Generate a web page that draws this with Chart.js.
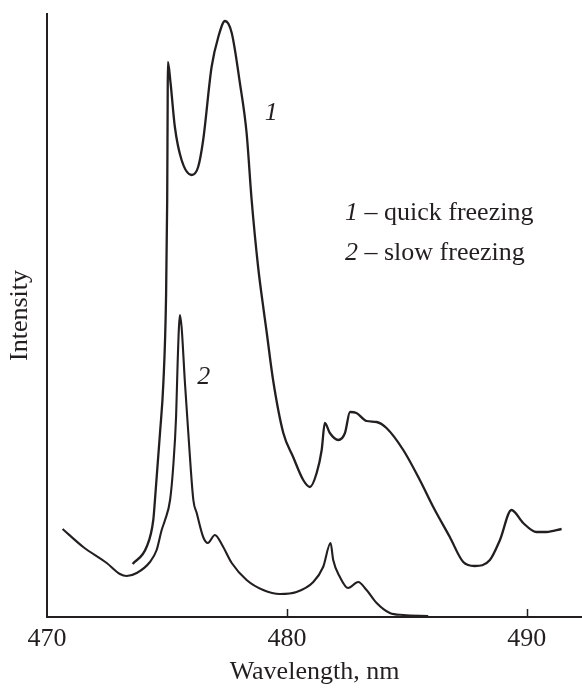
<!DOCTYPE html>
<html>
<head>
<meta charset="utf-8">
<script src="https://cdn.jsdelivr.net/npm/chart.js@4"></script>
<style>
  body { margin: 0; background: #fff; }
  canvas { display: block; }
</style>
</head>
<body>
<canvas id="spectrum" width="582" height="688"></canvas>
<script>
// curve 1 - quick freezing
var wl1 = [473.57, 474.15, 474.43, 474.5, 474.71, 474.85, 474.96, 475.01, 475.03, 475.04,
  475.15, 475.33, 475.61, 476.03, 476.3, 476.51, 476.86, 477.14, 477.42, 477.7,
  478.04, 478.32, 478.53, 478.8, 479.03, 479.15, 479.43, 479.85, 480.26, 480.68,
  480.96, 481.24, 481.45, 481.58, 481.79, 482.14, 482.42, 482.63, 482.9, 483.32,
  483.74, 484.15, 484.85, 485.54, 486.1, 486.79, 487.35, 487.83, 488.46, 488.88,
  489.36, 489.85, 490.4, 490.82, 491.45];
var int1 = [53, 70, 97, 117, 184, 234, 317, 417, 517, 555,
  534, 490, 457, 442, 450, 477, 550, 580, 596, 584,
  534, 484, 417, 350, 307, 286, 236, 184, 160, 137,
  130, 144, 167, 194, 184, 177, 184, 205, 204, 196,
  195, 189, 167, 137, 110, 80, 55, 51, 57, 77,
  107, 94, 85, 85, 88];

// curve 2 - slow freezing
var wl2 = [470.65, 471.51, 472.49, 473.04, 473.32, 473.74, 474.29, 474.57, 474.78, 474.92,
  475.13, 475.26, 475.38, 475.44, 475.5, 475.54, 475.61, 475.75, 475.89, 476.1,
  476.24, 476.51, 476.7, 477.0, 477.3, 477.7, 478.32, 479.01, 479.71, 480.4,
  481.1, 481.51, 481.82, 481.93, 482.21, 482.55, 482.97, 483.32, 483.74, 484.29,
  484.85, 485.89];
var int2 = [88, 70, 54, 43, 41, 44, 55, 67, 87, 97,
  117, 150, 200, 250, 290, 302, 290, 234, 184, 117,
  104, 80, 74, 82, 72, 54, 37, 27, 23, 25,
  35, 50, 74, 57, 40, 29, 35, 27, 14, 4,
  2, 1];

var xTicks = [470, 480, 490]
var innerTicks = [480, 490]
var curveLabels = [
  { text: "1", x: 479.08, y: 504 },
  { text: "2", x: 476.26, y: 240 }
]
var legendNums = ["1", "2"]
var legendTexts = [" \u2013 quick freezing", " \u2013 slow freezing"]
var legendPos = { x: 482.42, y: [404, 364] }

var ink = '#231f20'
var serif = '"Liberation Serif", "Times New Roman", serif'

function toPoints(xs, ys){
  return xs.map(function(v, i){ return { x: v, y: ys[i] } })
}

var annotations = {
  id: 'annotations',
  afterDatasetsDraw: function(chart){
    var ctx = chart.ctx
    var x = chart.scales.x, y = chart.scales.y
    ctx.save()
    // inward tick marks on the wavelength axis
    ctx.strokeStyle = ink
    ctx.lineWidth = 1.5
    innerTicks.forEach(function(v){
      var px = Math.round(x.getPixelForValue(v)) + 0.5
      ctx.beginPath()
      ctx.moveTo(px, y.bottom)
      ctx.lineTo(px, y.bottom - 8)
      ctx.stroke()
    })
    ctx.fillStyle = ink
    ctx.textBaseline = 'middle'
    ctx.textAlign = 'left'
    ctx.font = 'italic 26px ' + serif
    curveLabels.forEach(function(l){
      ctx.fillText(l.text, x.getPixelForValue(l.x), y.getPixelForValue(l.y))
    })
    legendNums.forEach(function(n, i){
      var px = x.getPixelForValue(legendPos.x)
      var py = y.getPixelForValue(legendPos.y[i])
      ctx.font = 'italic 26px ' + serif
      ctx.fillText(n, px, py)
      var w = ctx.measureText(n).width
      ctx.font = '26px ' + serif
      ctx.fillText(legendTexts[i], px + w, py)
    })
    ctx.restore()
  }
}

var ctx = document.getElementById('spectrum').getContext('2d')
var myChart = new Chart(ctx, {
  type: 'line',
  data: {
    datasets: [{
      label: 'quick freezing',
      data: toPoints(wl1, int1),
      borderColor: ink,
      borderWidth: 2.3,
      pointRadius: 0,
      fill: false,
      cubicInterpolationMode: 'monotone'
    }, {
      label: 'slow freezing',
      data: toPoints(wl2, int2),
      borderColor: ink,
      borderWidth: 2.1,
      pointRadius: 0,
      fill: false,
      cubicInterpolationMode: 'monotone'
    }]
  },
  options: {
    responsive: false,
    animation: false,
    layout: { padding: { top: 14, right: 0, left: 0, bottom: 0 } },
    scales: {
      x: {
        type: 'linear',
        min: 470,
        max: 492.3,
        afterBuildTicks: function(scale){
          scale.ticks = xTicks.map(function(v){ return { value: v } })
        },
        afterFit: function(scale){ scale.height = 71 },
        grid: { display: false, drawTicks: false },
        border: { display: true, color: ink, width: 2 },
        ticks: {
          padding: 7,
          color: ink,
          font: { family: serif, size: 26 },
          maxRotation: 0,
          autoSkip: false
        },
        title: {
          display: true,
          text: 'Wavelength, nm',
          color: ink,
          font: { family: serif, size: 26 },
          padding: { top: 0, bottom: 0 }
        }
      },
      y: {
        min: 0,
        max: 603,
        afterFit: function(scale){ scale.width = 47 },
        grid: { display: false, drawTicks: false },
        border: { display: true, color: ink, width: 2 },
        ticks: { display: false },
        title: {
          display: true,
          text: 'Intensity',
          color: ink,
          font: { family: serif, size: 26 },
          padding: { top: 5, bottom: 0 }
        }
      }
    },
    plugins: {
      legend: { display: false },
      tooltip: { enabled: false }
    }
  },
  plugins: [annotations]
})
</script>
</body>
</html>
